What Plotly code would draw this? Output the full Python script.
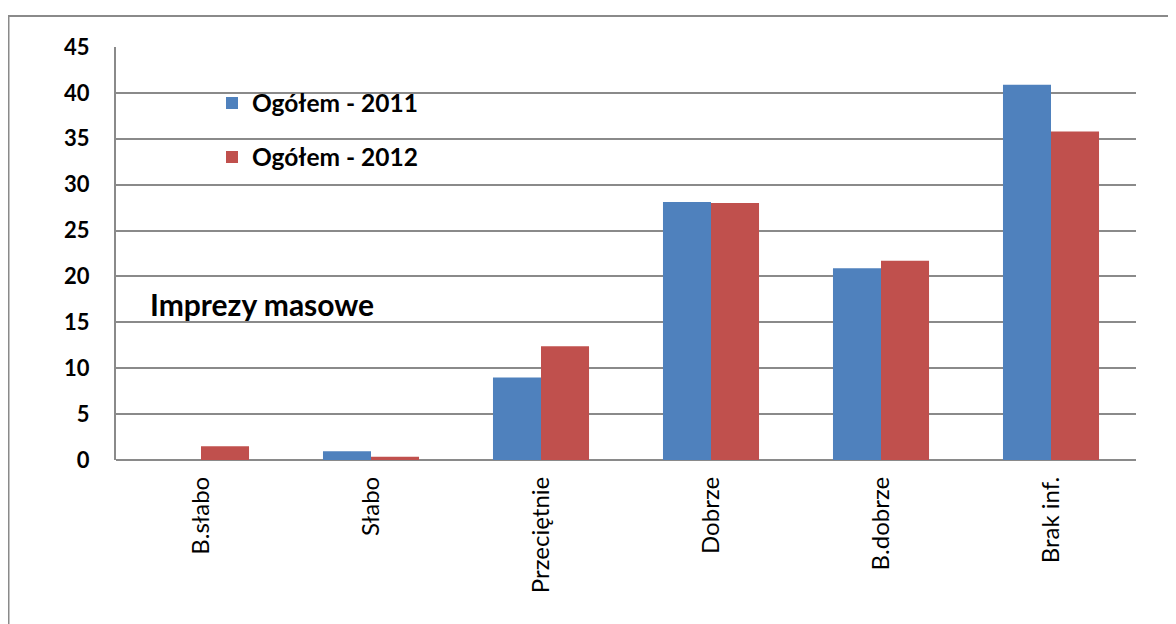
import plotly.graph_objects as go

categories = ["B.słabo", "Słabo", "Przeciętnie", "Dobrze", "B.dobrze", "Brak inf."]
values_2011 = [0, 0.95, 9.0, 28.1, 20.9, 40.9]
values_2012 = [1.5, 0.35, 12.4, 28.0, 21.7, 35.8]
series_names = ["Ogółem - 2011", "Ogółem - 2012"]
y_ticks = [0, 5, 10, 15, 20, 25, 30, 35, 40, 45]

FONT = "Lato, 'Open Sans', sans-serif"
BLUE = "#4F81BD"
RED = "#C0504D"
GRID = "#8A8A8A"

# page is offset by the 8px body margin; figure coords = page coords - 8
W, H = 1168, 616
L, T = 108, 39
PW, PH = 1020, 413

def px(xpage):
    return (xpage - 8 - L) / PW

def py(ypage):
    return (T + PH - (ypage - 8)) / PH

fig = go.Figure()
fig.add_trace(go.Bar(x=categories, y=values_2011, name=series_names[0], showlegend=True,
                     marker=dict(color=BLUE, line=dict(width=0)), legend="legend"))
fig.add_trace(go.Bar(x=categories, y=values_2012, name=series_names[1], showlegend=True,
                     marker=dict(color=RED, line=dict(width=0)), legend="legend2"))

legend_common = dict(font=dict(family=FONT, size=24.5, color="black", weight="bold"),
                     bgcolor="rgba(0,0,0,0)", xanchor="left", yanchor="middle",
                     itemwidth=30)
fig.update_layout(
    width=W, height=H,
    margin=dict(l=L, r=W - L - PW, t=T, b=H - T - PH, autoexpand=False),
    paper_bgcolor="white", plot_bgcolor="white", showlegend=True,
    barmode="group", bargap=0.435, bargroupgap=0,
    legend=dict(x=px(212), y=py(103), **legend_common),
    legend2=dict(x=px(212), y=py(157), **legend_common),
    xaxis=dict(type="category", showgrid=False, showline=False, ticks="",
               tickangle=-90, ticklabelstandoff=11,
               tickfont=dict(family=FONT, size=24, color="black")),
    yaxis=dict(range=[0, 45], tickvals=y_ticks, showgrid=True, gridcolor=GRID, gridwidth=2,
               showline=True, linecolor=GRID, linewidth=2, zeroline=True,
               zerolinecolor=GRID, zerolinewidth=2, ticks="", ticklabelstandoff=20,
               tickfont=dict(family=FONT, size=22, color="black", weight="bold")),
    annotations=[dict(text="<b>Imprezy masowe</b>", x=px(262), y=py(304),
                      xref="paper", yref="paper", xanchor="center", yanchor="middle",
                      showarrow=False,
                      font=dict(family=FONT, size=30, color="black"))],
    shapes=[
        dict(type="line", xref="paper", yref="paper", x0=px(8), x1=px(1190),
             y0=py(16), y1=py(16), line=dict(color=GRID, width=2)),
        dict(type="line", xref="paper", yref="paper", x0=px(8.5), x1=px(8.5),
             y0=py(16), y1=py(640), line=dict(color=GRID, width=2)),
    ],
)
fig.write_html("out.html")
